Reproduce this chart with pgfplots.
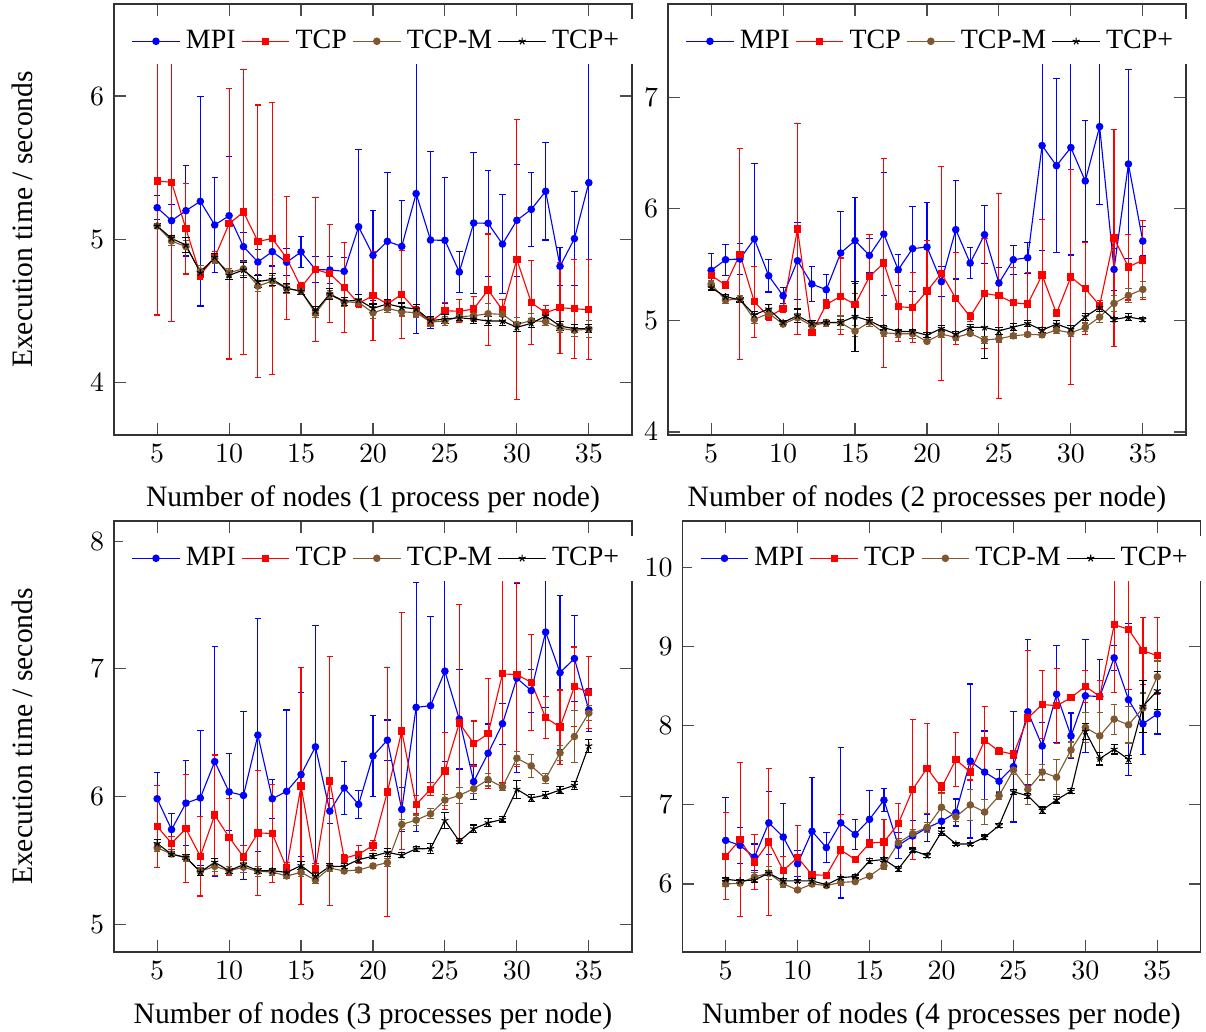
\documentclass[border=0pt]{standalone}
\usepackage{fontspec}
\setmainfont{Liberation Serif}
\usepackage{pgfplots}
\usepackage{pgfplotstable}
\pgfplotsset{compat=1.18}
\definecolor{tcpm}{RGB}{128,88,48}

\pgfplotstableread{
x m me t te c ce p pe
5 5.221 0.085 5.407 0.935 5.093 0.02 5.093 0.02
6 5.130 0.11 5.398 0.972 4.988 0.03 5.007 0.02
7 5.200 0.316 5.074 0.316 4.949 0.04 4.960 0.05
8 5.265 0.73 4.753 0.03 4.779 0.04 4.767 0.03
9 5.100 0.33 4.874 0.04 4.865 0.03 4.874 0.03
10 5.165 0.41 5.109 0.944 4.767 0.03 4.749 0.03
11 4.949 0.10 5.190 0.995 4.795 0.05 4.786 0.05
12 4.842 0.09 4.986 0.951 4.674 0.04 4.705 0.04
13 4.914 0.10 5.005 0.947 4.709 0.04 4.721 0.04
14 4.840 0.093 4.870 0.431 4.656 0.03 4.660 0.03
15 4.912 0.11 4.665 0.03 4.640 0.02 4.637 0.02
16 4.790 0.093 4.790 0.50 4.484 0.03 4.500 0.03
17 4.786 0.095 4.760 0.342 4.614 0.03 4.619 0.04
18 4.777 0.094 4.665 0.313 4.563 0.03 4.567 0.03
19 5.088 0.54 4.553 0.03 4.560 0.03 4.577 0.04
20 4.888 0.316 4.607 0.31 4.488 0.04 4.519 0.03
21 4.986 0.48 4.549 0.03 4.519 0.03 4.549 0.03
22 4.951 0.32 4.616 0.305 4.495 0.03 4.526 0.03
23 5.319 0.975 4.502 0.03 4.488 0.03 4.514 0.03
24 4.995 0.616 4.423 0.03 4.423 0.03 4.433 0.03
25 4.993 0.44 4.502 0.058 4.430 0.03 4.444 0.03
26 4.772 0.143 4.498 0.08 4.460 0.03 4.453 0.02
27 5.114 0.49 4.514 0.087 4.467 0.03 4.444 0.03
28 5.112 0.37 4.647 0.39 4.481 0.07 4.430 0.03
29 4.967 0.345 4.507 0.073 4.477 0.05 4.430 0.03
30 5.133 0.39 4.860 0.976 4.407 0.05 4.386 0.03
31 5.209 0.26 4.558 0.292 4.433 0.05 4.414 0.03
32 5.335 0.34 4.488 0.052 4.426 0.03 4.465 0.03
33 4.812 0.134 4.523 0.317 4.379 0.03 4.395 0.03
34 5.005 0.33 4.516 0.345 4.365 0.04 4.377 0.03
35 5.395 0.99 4.509 0.349 4.374 0.06 4.377 0.03
}\dataA

\pgfplotstableread{
x m me t te c ce p pe
5 5.448 0.15 5.404 0.03 5.326 0.03 5.293 0.02
6 5.544 0.139 5.317 0.03 5.182 0.03 5.212 0.02
7 5.550 0.142 5.592 0.946 5.191 0.03 5.185 0.02
8 5.730 0.679 5.167 0.317 5.009 0.04 5.051 0.03
9 5.400 0.145 5.033 0.03 5.063 0.03 5.102 0.04
10 5.221 0.07 5.105 0.03 4.967 0.02 4.982 0.02
11 5.535 0.344 5.819 0.946 5.024 0.04 5.042 0.06
12 5.326 0.154 4.892 0.03 4.952 0.04 4.973 0.03
13 5.275 0.138 5.143 0.04 4.979 0.03 4.982 0.02
14 5.604 0.374 5.215 0.344 4.979 0.06 4.982 0.03
15 5.715 0.384 5.143 0.10 4.904 0.05 5.036 0.315
16 5.583 0.154 5.392 0.38 4.985 0.04 4.997 0.03
17 5.774 0.55 5.514 0.936 4.889 0.03 4.934 0.02
18 5.454 0.14 5.123 0.31 4.880 0.03 4.901 0.02
19 5.643 0.38 5.114 0.312 4.880 0.04 4.901 0.02
20 5.658 0.40 5.263 0.456 4.812 0.02 4.868 0.02
21 5.347 0.135 5.422 0.958 4.877 0.03 4.928 0.03
22 5.813 0.442 5.197 0.415 4.848 0.03 4.877 0.02
23 5.514 0.136 5.033 0.04 4.883 0.02 4.937 0.03
24 5.768 0.26 5.242 0.49 4.824 0.03 4.937 0.28
25 5.335 0.137 5.221 0.92 4.836 0.03 4.907 0.03
26 5.544 0.13 5.158 0.32 4.862 0.02 4.940 0.03
27 5.562 0.14 5.146 0.28 4.874 0.02 4.973 0.03
28 6.567 0.94 5.407 0.50 4.871 0.02 4.913 0.02
29 6.387 0.78 5.063 0.03 4.913 0.03 4.967 0.03
30 6.549 0.963 5.389 0.96 4.889 0.03 4.922 0.03
31 6.250 0.544 5.284 0.414 4.937 0.04 5.033 0.03
32 6.737 0.70 5.135 0.04 5.030 0.05 5.117 0.04
33 5.457 0.19 5.738 0.975 5.152 0.07 5.009 0.02
34 6.402 0.85 5.478 0.295 5.224 0.06 5.030 0.03
35 5.711 0.13 5.541 0.356 5.278 0.07 5.009 0.02
}\dataB

\pgfplotstableread{
x m me t te c ce p pe
5 5.984 0.203 5.767 0.323 5.600 0.03 5.634 0.03
6 5.743 0.124 5.636 0.05 5.552 0.02 5.550 0.02
7 5.950 0.331 5.749 0.423 5.521 0.03 5.526 0.02
8 5.990 0.531 5.534 0.311 5.416 0.03 5.411 0.03
9 6.275 0.90 5.856 0.47 5.455 0.04 5.487 0.03
10 6.037 0.302 5.683 0.30 5.421 0.03 5.421 0.02
11 6.010 0.656 5.529 0.09 5.448 0.04 5.469 0.03
12 6.482 0.91 5.717 0.49 5.416 0.04 5.421 0.02
13 5.984 0.152 5.712 0.386 5.411 0.03 5.421 0.02
14 6.042 0.636 5.442 0.04 5.380 0.02 5.408 0.02
15 6.173 0.64 6.084 0.93 5.408 0.03 5.461 0.03
16 6.390 0.951 5.440 0.04 5.348 0.03 5.377 0.03
17 5.887 0.10 6.123 0.974 5.442 0.03 5.455 0.02
18 6.068 0.209 5.518 0.03 5.419 0.02 5.455 0.02
19 5.940 0.111 5.550 0.07 5.427 0.02 5.508 0.02
20 6.319 0.314 5.618 0.04 5.458 0.02 5.534 0.02
21 6.442 0.158 6.037 0.973 5.484 0.03 5.565 0.03
22 5.900 0.17 6.513 0.927 5.783 0.04 5.542 0.02
23 6.699 0.974 5.940 0.07 5.817 0.04 5.592 0.02
24 6.712 0.70 6.058 0.05 5.866 0.04 5.594 0.04
25 6.982 0.71 6.202 0.30 5.974 0.04 5.814 0.06
26 6.607 0.39 6.576 0.927 6.010 0.06 5.652 0.02
27 6.118 0.137 6.416 0.176 6.063 0.04 5.749 0.03
28 6.340 0.229 6.492 0.43 6.134 0.05 5.796 0.03
29 6.571 0.16 6.961 0.85 6.076 0.03 5.822 0.02
30 6.927 0.74 6.955 0.72 6.301 0.05 6.058 0.07
31 6.830 0.168 6.895 0.377 6.241 0.09 5.990 0.03
32 7.288 0.589 6.618 0.165 6.141 0.04 6.013 0.03
33 6.971 0.603 6.545 0.29 6.343 0.06 6.052 0.03
34 7.081 0.338 6.861 0.31 6.471 0.20 6.089 0.03
35 6.678 0.17 6.817 0.28 6.654 0.06 6.398 0.05
}\dataC

\pgfplotstableread{
x m me t te c ce p pe
5 6.551 0.546 6.350 0.55 6.000 0.03 6.060 0.02
6 6.488 0.23 6.560 0.975 6.010 0.03 6.040 0.02
7 6.340 0.165 6.277 0.35 6.090 0.06 6.050 0.03
8 6.773 0.40 6.531 0.93 6.137 0.08 6.137 0.03
9 6.594 0.42 6.170 0.18 6.000 0.04 6.040 0.03
10 6.255 0.165 6.335 0.40 5.925 0.02 6.040 0.02
11 6.666 0.68 6.116 0.04 6.000 0.02 6.040 0.03
12 6.460 0.19 6.110 0.04 5.980 0.02 5.990 0.02
13 6.773 0.95 6.430 0.45 6.020 0.02 6.080 0.02
14 6.627 0.19 6.310 0.03 6.030 0.02 6.095 0.02
15 6.818 0.36 6.517 0.05 6.100 0.02 6.290 0.03
16 7.060 0.146 6.531 0.28 6.230 0.04 6.310 0.03
17 6.488 0.165 6.763 0.25 6.520 0.05 6.190 0.03
18 6.607 0.20 7.196 0.885 6.636 0.05 6.425 0.03
19 6.709 0.175 7.465 0.57 6.717 0.06 6.360 0.03
20 6.793 0.15 7.217 0.06 6.970 0.175 6.658 0.05
21 6.904 0.17 7.573 0.343 6.850 0.06 6.506 0.02
22 7.555 0.974 7.415 0.10 7.000 0.20 6.506 0.02
23 7.415 0.52 7.815 0.43 6.910 0.16 6.590 0.03
24 7.300 0.15 7.680 0.04 7.116 0.05 6.740 0.03
25 7.484 0.70 7.640 0.05 7.440 0.05 7.166 0.03
26 8.178 0.915 8.098 0.857 7.196 0.19 7.116 0.03
27 7.745 0.30 8.270 0.43 7.415 0.10 6.933 0.04
28 8.400 0.614 8.254 0.474 7.350 0.22 7.064 0.04
29 7.872 0.29 8.356 0.04 7.695 0.10 7.174 0.03
30 8.380 0.716 8.500 0.20 7.980 0.19 7.930 0.10
31 8.370 0.47 8.370 0.20 7.873 0.30 7.585 0.08
32 8.860 0.16 9.280 0.864 8.085 0.19 7.704 0.06
33 8.330 0.96 9.220 0.76 8.013 0.23 7.577 0.05
34 8.025 0.39 8.950 0.424 8.225 0.19 8.247 0.33
35 8.150 0.254 8.886 0.487 8.620 0.20 8.445 0.24
}\dataD

\pgfplotsset{
  panel/.style={
    scale only axis, width=185.44pt, height=154.3pt,
    xmin=2, xmax=38, xtick={5,10,...,35},
    tick label style={font=\fontsize{10}{12}\selectfont},
    every axis x label/.style={at={(axis description cs:0.5,-0.148)}, anchor=center,
      font=\fontsize{10.6}{12.5}\selectfont},
    every axis y label/.style={at={(axis description cs:-0.1776,0.5)}, rotate=90, anchor=center,
      font=\fontsize{10.6}{12.5}\selectfont},
    axis line style={black!80},
    every tick/.style={black!70},
    legend columns=-1,
    legend style={at={(0.51,0.967)}, anchor=north, draw=none, fill=white,
      font=\fontsize{10}{12}\selectfont},
  },
  mpi/.style={color=blue, mark=*, mark size=1.15pt, mark options={fill=blue}},
  tcp/.style={color=red, mark=square*, mark size=1.1pt, mark options={fill=red}},
  tcpm/.style={color=tcpm, mark=*, mark size=1.15pt, mark options={fill=tcpm}},
  tcpp/.style={color=black, mark=star, mark size=1.3pt},
}

\newcommand\fourplots[1]{%
  \addplot[mpi, error bars/.cd, y dir=both, y explicit] table[x=x, y=m, y error=me] {#1};
  \addlegendentry{MPI}
  \addplot[tcp, error bars/.cd, y dir=both, y explicit] table[x=x, y=t, y error=te] {#1};
  \addlegendentry{TCP}
  \addplot[tcpm, error bars/.cd, y dir=both, y explicit] table[x=x, y=c, y error=ce] {#1};
  \addlegendentry{TCP-M}
  \addplot[tcpp, error bars/.cd, y dir=both, y explicit] table[x=x, y=p, y error=pe] {#1};
  \addlegendentry{TCP+}
}

\begin{document}
\begin{tikzpicture}
\path[use as bounding box] (0,0) rectangle (431.75pt,369.46pt);

\begin{axis}[panel, at={(40.81pt,213.73pt)}, anchor=south west,
  ymin=3.635, ymax=6.642, ytick={4,5,6},
  xlabel={Number of nodes (1 process per node)},
  ylabel={Execution time / seconds}]
\fourplots{\dataA}
\end{axis}

\begin{axis}[panel, at={(239.14pt,213.73pt)}, anchor=south west,
  ymin=3.973, ymax=7.836, ytick={4,5,6,7},
  xlabel={Number of nodes (2 processes per node)}]
\fourplots{\dataB}
\end{axis}

\begin{axis}[panel, at={(40.81pt,28.64pt)}, anchor=south west,
  ymin=4.785, ymax=8.157, ytick={5,6,7,8},
  xlabel={Number of nodes (3 processes per node)},
  ylabel={Execution time / seconds}]
\fourplots{\dataC}
\end{axis}

\begin{axis}[panel, at={(244.34pt,28.64pt)}, anchor=south west,
  ymin=5.14, ymax=10.59, ytick={6,7,8,9,10},
  xlabel={Number of nodes (4 processes per node)}]
\fourplots{\dataD}
\end{axis}
\end{tikzpicture}
\end{document}
